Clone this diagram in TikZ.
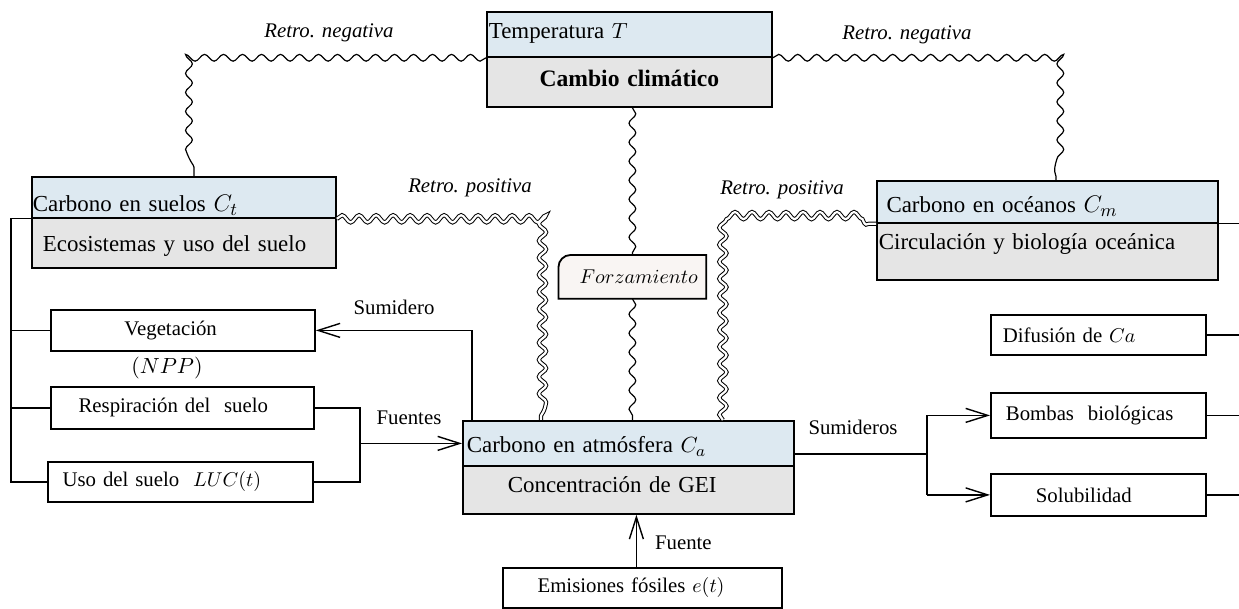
\documentclass[tikz,border=0pt]{standalone}
\usepackage[no-math]{fontspec}
\setmainfont{Liberation Serif}
\usetikzlibrary{arrows.meta,decorations.pathmorphing,backgrounds,calc}
\definecolor{topblue}{RGB}{221,233,241}
\definecolor{botgray}{RGB}{229,229,229}
\definecolor{forzfill}{RGB}{249,245,243}
\newcommand{\mainsz}{\fontsize{11.45}{14}\selectfont}
\newcommand{\smallsz}{\fontsize{10.4}{12.5}\selectfont}
\begin{document}
\begin{tikzpicture}[x=0.5pt,y=-0.5pt,
  part/.style={draw, line width=0.9pt, anchor=north west, inner ysep=0pt, inner xsep=1pt, text depth=0pt, align=left, font=\mainsz},
  bluepart/.style={part, fill=topblue},
  graypart/.style={part, fill=botgray},
  sbox/.style={draw, line width=0.9pt, fill=white, anchor=north west, inner ysep=0pt, inner xsep=1pt, align=left, font=\smallsz},
  lbl/.style={font=\smallsz},
  retro/.style={font=\fontsize{10.4}{12.5}\selectfont\itshape},
  wave/.style={decorate, decoration={snake, amplitude=1.7pt, segment length=9.5pt}, line width=0.6pt},
  dwave/.style={decorate, decoration={snake, amplitude=1.8pt, segment length=8.5pt}, double, double distance=1.1pt, line width=0.5pt},
  conn/.style={line width=0.7pt},
  arr/.style={conn, -{Straight Barb[length=11pt,width=7pt]}}]
\useasboundingbox (0,0) rectangle (1239,609);

% Climate change box
\node[bluepart, minimum width=142.5pt, minimum height=22.5pt, text width=140.5pt, text height=4.5pt] (Ttop) at (486,11) {Temperatura $T$};
\node[graypart, minimum width=142.5pt, minimum height=25pt, text width=140.5pt, text height=5pt, align=center, font=\fontsize{11.8}{14}\selectfont\bfseries] (Tbot) at (486,56) {Cambio climático};

% Soil box
\node[bluepart, minimum width=152pt, minimum height=20.5pt, inner xsep=0.5pt, text width=151pt, text height=14.5pt] (Stop) at (31,176) {Carbono en suelos {\fontsize{13}{15}\selectfont$C_t$}};
\node[graypart, minimum width=152pt, minimum height=25pt, text width=150pt, text height=8.6pt] (Sbot) at (31,217) {\hspace*{4.5pt}Ecosistemas y uso del suelo};

% Ocean box
\node[bluepart, minimum width=170.5pt, minimum height=21pt, text width=168.5pt, text height=10.6pt] (Otop) at (876,180) {\hspace*{3.8pt}Carbono en océanos {\fontsize{13}{15}\selectfont$C_m$}};
\node[graypart, minimum width=170.5pt, minimum height=28.5pt, text width=168.5pt, text height=5pt, text depth=7pt] (Obot) at (876,222) {Circulación y biología oceánica};

% Atmosphere box
\node[bluepart, minimum width=165.5pt, minimum height=22.5pt, text width=163.5pt, text height=9.5pt] (Atop) at (462,420) {\hspace*{1pt}Carbono en atmósfera $C_a$};
\node[graypart, minimum width=165.5pt, minimum height=24pt, text width=163.5pt, text height=3pt] (Abot) at (462,465) {\hspace*{21.5pt}Concentración de GEI};

% Forcing
\node[anchor=north west, minimum width=73.5pt, minimum height=21.5pt, inner xsep=4pt, inner ysep=0pt, text width=65.5pt, align=right, font=\smallsz] (F) at (558.5,255) {$Forzamiento$};

% Left small boxes
\node[sbox, minimum width=132pt, minimum height=20.5pt, text width=130pt] (Veg) at (50,309) {\hspace*{35.75pt}Vegetación};
\node[sbox, minimum width=131.5pt, minimum height=21pt, text width=129.5pt] (Resp) at (50,386) {\hspace*{12.85pt}Respiración del\ \ suelo};
\node[sbox, minimum width=132.5pt, minimum height=20pt, text width=130.5pt] (Uso) at (47,461) {\hspace*{6.35pt}Uso del suelo\ \ $LUC(t)$};
\node[font=\fontsize{11}{13}\selectfont] (npp) at (167,368) {$(NPP)$};

% Right small boxes
\node[sbox, minimum width=107.5pt, minimum height=20pt, text width=105.5pt] (Dif) at (990,314) {\hspace*{5pt}Difusión de $Ca$};
\node[sbox, minimum width=107.5pt, minimum height=22.5pt, text width=105.5pt] (Bomb) at (990,392) {\hspace*{6.5pt}Bombas\ \ biológicas};
\node[sbox, minimum width=107.5pt, minimum height=21pt, text width=105.5pt] (Sol) at (990,473) {\hspace*{21.5pt}Solubilidad};

% Emissions
\node[sbox, minimum width=139.5pt, minimum height=20pt, text width=137.5pt] (Emis) at (502,567) {\hspace*{16.35pt}Emisiones fósiles $e(t)$};

% Labels
\node[retro] (rn1) at (329,33) {Retro. negativa};
\node[retro] (rn2) at (907,35) {Retro. negativa};
\node[retro] (rp1) at (470,188) {Retro. positiva};
\node[retro] (rp2) at (782,190) {Retro. positiva};
\node[lbl] (lsum) at (394,307) {Sumidero};
\node[lbl] (lfue) at (409,418) {Fuentes};
\node[lbl] (lsums) at (853,427) {Sumideros};
\node[lbl, anchor=west] (lf) at (648,543) {Fuente};

% Helper x positions
\coordinate (lbx) at (11,0);
\coordinate (fx) at (360,0);
\coordinate (sx) at (472,0);
\coordinate (kx) at (927,0);
\coordinate (rx) at (1239,0);

% Background layer: white page and forcing box shape
\begin{scope}[on background layer]
\fill[white] (0,0) rectangle (1239,609);
\draw[line width=0.9pt, fill=forzfill] (F.south west) [rounded corners=6pt] -- (F.north west) [sharp corners] -- (F.north east) -- (F.south east) -- cycle;
\end{scope}

% Feedback waves
\draw[wave] (Ttop.south west) -| ([xshift=5pt]Stop.north);
\draw[wave] (Ttop.south east) -| ([xshift=4.25pt]Otop.north);
\draw[wave] (F.north |- Tbot.south) -- (F.north);
\draw[wave] (F.south) -- (F.south |- Atop.north);
\draw[dwave] (Stop.south east) -| ([xshift=-43.75pt]Atop.north);
\draw[dwave] ([xshift=47.25pt]Atop.north) |- (Otop.south west);

% Left bracket
\draw[conn] (Stop.south west) -- (Stop.south west -| lbx) |- (Uso.west);
\draw[conn] (Veg.west) -- (Veg.west -| lbx);
\draw[conn] (Resp.west) -- (Resp.west -| lbx);

% Sources
\draw[conn] (Resp.east) -- (Resp.east -| fx) -- (Uso.east -| fx) -- (Uso.east);
\draw[arr] (Atop.west -| fx) -- (Atop.west);

% Sink to vegetation
\draw[arr] (sx |- Atop.north) |- (Veg.east);

% Ocean sinks
\draw[conn] ([yshift=-5.25pt]Atop.east) -- ([yshift=-5.25pt]Atop.east -| kx);
\draw[conn] (kx |- Bomb.west) -- (kx |- Sol.west);
\draw[arr] (kx |- Bomb.west) -- (Bomb.west);
\draw[arr] (kx |- Sol.west) -- (Sol.west);

% Right edge lines
\draw[conn] (Otop.south east) -- (Otop.south east -| rx);
\draw[conn] (Dif.east) -- (Dif.east -| rx);
\draw[conn] (Bomb.east) -- (Bomb.east -| rx);
\draw[conn] (Sol.east) -- (Sol.east -| rx);

% Fossil emissions
\draw[arr] ([xshift=-3pt]Emis.north) -- ([xshift=-3pt]Emis.north |- Abot.south);
\end{tikzpicture}
\end{document}
